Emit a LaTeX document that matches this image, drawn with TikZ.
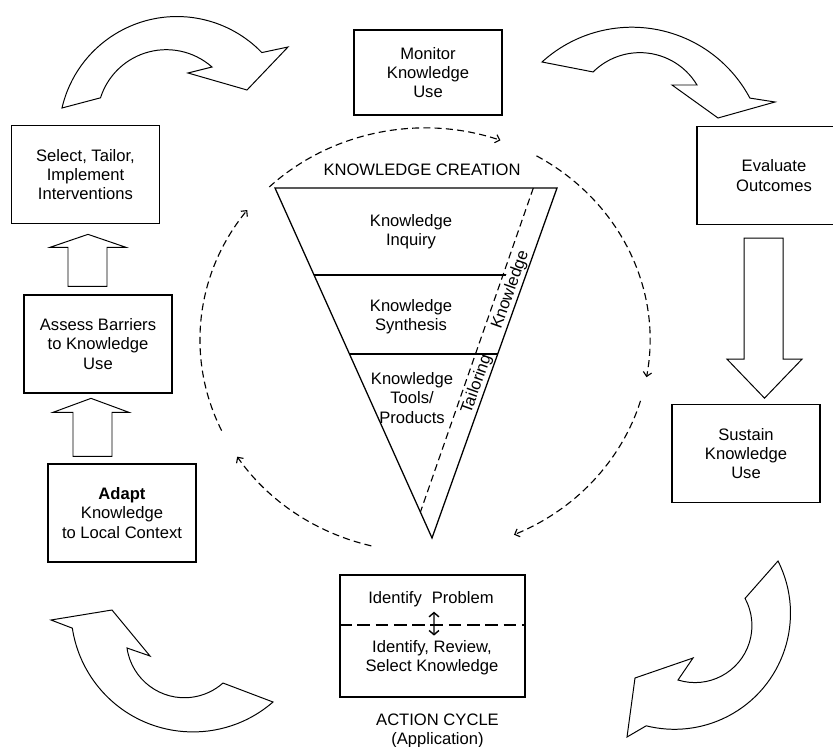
\documentclass[tikz,border=0pt]{standalone}
\usepackage{fontspec}
\setmainfont{Liberation Sans}
\usetikzlibrary{arrows.meta,positioning,calc}

\tikzset{
    stage/.style={draw, line width=0.9pt, align=center, minimum width=3.7cm, minimum height=2.45cm},
    phase/.style={align=center},
    ring/.style={line width=0.8pt, dash pattern=on 5pt off 3pt, -{Straight Barb[length=3pt,width=6pt]}},
    blockarrow/.style={draw, line width=0.7pt, fill=white, line join=miter},
    edgelabel/.style={rotate=70.35, anchor=south, inner sep=1pt}
}

\begin{document}
\begin{tikzpicture}[x=0.025cm, y=-0.025cm, font=\fontsize{11.8}{13.8}\selectfont]
\useasboundingbox (0,0) rectangle (833,747);
\clip (0,0) rectangle (833,747);

% action cycle boxes
\node[stage] (select) at (85.5,174.5) {Select, Tailor,\\Implement\\Interventions};
\node[stage] (assess) at (98,344) {Assess Barriers\\to Knowledge\\Use};
\node[stage] (adapt) at (122,513) {\textbf{Adapt}\\Knowledge\\to Local Context};
\node[stage, minimum height=2.125cm] (monitor) at (428,72.5) {Monitor\\Knowledge\\Use};
\node[stage, minimum width=3.85cm] (evaluate) at (774,175.5) {Evaluate\\Outcomes};
\node[stage] (sustain) at (746,453.5) {Sustain\\Knowledge\\Use};

% straight block arrows
\draw[blockarrow] ($(assess.north)+(-30,-8)$) -- ++(0,-39) -- ++(-18,0) -- ++(38,-13) -- ++(38,13) -- ++(-19,0) -- ++(0,39) -- cycle;
\draw[blockarrow] ($(adapt.north)+(-49,-7)$) -- ++(0,-44) -- ++(-20,0) -- ++(38,-14) -- ++(38,14) -- ++(-17,0) -- ++(0,44) -- cycle;
\draw[blockarrow] ($(evaluate.south)+(-30,13)$) -- ++(0,121) -- ++(-17,0) -- ++(37.5,39) -- ++(37.5,-39) -- ++(-19,0) -- ++(0,-121) -- cycle;

% curved block arrows
\draw[blockarrow] (62,108) arc[start angle=-167, end angle=-44, radius=118] -- (288,47) -- (247,90) -- (188,73) -- (212,67) arc[start angle=-48.5, end angle=-162.4, radius=69] -- cycle;
\draw[blockarrow] (542,62) arc[start angle=-132.3, end angle=-28, radius=133.6] -- (775,102) -- (718,118) -- (672,85) -- (697,85) arc[start angle=-30.9, end angle=-134.8, radius=66.5] -- cycle;
\draw[blockarrow] (778,561) arc[start angle=-26.8, end angle=104.1, radius=116] -- (627,737) -- (635,678) -- (693,658) -- (678,680) arc[start angle=107.3, end angle=-28.5, radius=57] -- cycle;
\draw[blockarrow] (273,702) arc[start angle=49, end angle=171.4, radius=122] -- (51,620) -- (112,610) -- (150,656) -- (127,648) arc[start angle=171.8, end angle=48.3, radius=58] -- cycle;

% knowledge funnel
\coordinate (ftl) at (275,188);
\coordinate (ftr) at (557,188);
\coordinate (ftip) at (432,538);
\draw[line width=0.9pt] ($(ftl)!0.2486!(ftip)$) -- ($(ftr)!0.2486!(ftip)$);
\draw[line width=0.9pt] ($(ftl)!0.4743!(ftip)$) -- ($(ftr)!0.4743!(ftip)$);
\node[edgelabel, fill=white] (tkn) at ($(ftr)!0.30!(ftip)$) {Knowledge};
\node[edgelabel] (tail) at ($(ftr)!0.57!(ftip)$) {Tailoring};
\draw[line width=0.9pt] (ftl) -- (ftr) -- (ftip) -- cycle;
\draw[line width=0.8pt, dash pattern=on 5pt off 3pt] ($(ftl)!0.916!(ftr)$) -- ($(ftl)!0.926!(ftip)$);

\node (create) at (422,170) {KNOWLEDGE CREATION};
\node[phase] (inquiry) at (411,232) {Knowledge\\Inquiry};
\node[phase] (synth) at (411,317) {Knowledge\\Synthesis};
\node[phase] (tools) at (412,398) {Knowledge\\Tools/\\Products};

% dashed ring
\coordinate (hub) at (425,340);
\draw[ring] ($(hub)+({225*cos(-133.8)},{212*sin(-133.8)})$) arc[start angle=-133.8, end angle=-70.4, x radius=225, y radius=212];
\draw[ring] ($(hub)+({225*cos(-60.3)},{212*sin(-60.3)})$) arc[start angle=-60.3, end angle=10.1, x radius=225, y radius=212];
\draw[ring] ($(hub)+({225*cos(16.7)},{212*sin(16.7)})$) arc[start angle=16.7, end angle=66.7, x radius=225, y radius=212];
\draw[ring] ($(hub)+({225*cos(103.8)},{212*sin(103.8)})$) arc[start angle=103.8, end angle=146.6, x radius=225, y radius=212];
\draw[ring] ($(hub)+({225*cos(154.7)},{212*sin(154.7)})$) arc[start angle=154.7, end angle=217.8, x radius=225, y radius=212];

% action box
\node[stage, minimum width=4.625cm, minimum height=3.05cm, line width=1.3pt] (action) at (432.5,636) {};
\node (problem) at (431,599) {Identify\hspace{0.6em}Problem};
\node[phase] (review) at (432,658) {Identify, Review,\\Select Knowledge};
\draw[line width=1pt, dash pattern=on 9pt off 4pt] ($(action.west)+(0,-11)$) -- ($(action.east)+(0,-11)$);
\draw[line width=1pt, {Straight Barb[length=3pt,width=7pt]}-{Straight Barb[length=3pt,width=7pt]}] ([xshift=0.075cm]problem.south) -- ([xshift=0.05cm]review.north);
\node[phase, below=0.275cm of action, xshift=0.125cm] (actname) {ACTION CYCLE\\(Application)};
\end{tikzpicture}
\end{document}
